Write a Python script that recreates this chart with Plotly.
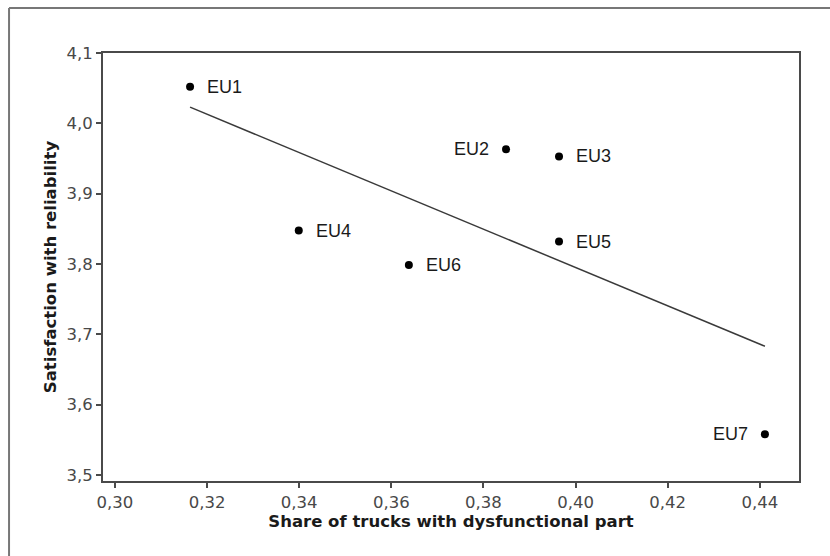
import numpy as np
import plotly.graph_objects as go

# Data
regions = ["EU1", "EU2", "EU3", "EU4", "EU5", "EU6", "EU7"]
share_dysfunctional = [0.3163, 0.3849, 0.3964, 0.3399, 0.3964, 0.3638, 0.4411]
satisfaction = [4.052, 3.963, 3.953, 3.8475, 3.832, 3.7987, 3.558]
x_ticks = [0.30, 0.32, 0.34, 0.36, 0.38, 0.40, 0.42, 0.44]
y_ticks = [3.5, 3.6, 3.7, 3.8, 3.9, 4.0, 4.1]

left_labels = {"EU2", "EU7"}

# Least-squares trend line
slope, intercept = np.polyfit(share_dysfunctional, satisfaction, 1)
fit_x = [min(share_dysfunctional), max(share_dysfunctional)]
fit_y = [slope * v + intercept for v in fit_x]

fig = go.Figure()
fig.add_trace(go.Scatter(x=fit_x, y=fit_y, mode="lines",
                         line=dict(color="#3a3a3a", width=1.5),
                         hoverinfo="skip", showlegend=False))
fig.add_trace(go.Scatter(x=share_dysfunctional, y=satisfaction, mode="markers",
                         marker=dict(color="black", size=8),
                         text=regions, showlegend=False))

for name, xv, yv in zip(regions, share_dysfunctional, satisfaction):
    left = name in left_labels
    fig.add_annotation(x=xv, y=yv, text=name, showarrow=False,
                       xanchor="right" if left else "left", yanchor="middle",
                       xshift=-15 if left else 15,
                       font=dict(family="Liberation Sans, Arial", size=18, color="#1a1a1a"))

axis_common = dict(showgrid=False, zeroline=False, showline=True, mirror=True,
                   linecolor="#4a4a4a", linewidth=2, ticks="outside", ticklen=5,
                   tickwidth=1.5, tickcolor="#4a4a4a",
                   tickfont=dict(family="DejaVu Sans, Verdana", size=16.5, color="#484848"))

fig.update_xaxes(range=[0.2974, 0.4485], tickvals=x_ticks, tickformat=".2f",
                 title=dict(text="<b>Share of trucks with dysfunctional part</b>",
                            font=dict(family="DejaVu Sans, Verdana", size=16.5, color="#1a1a1a"),
                            standoff=4),
                 **axis_common)
fig.update_yaxes(range=[3.4915, 4.1], tickvals=y_ticks, tickformat=".1f",
                 title=dict(text="<b>Satisfaction with reliability</b>",
                            font=dict(family="DejaVu Sans, Verdana", size=16.5, color="#1a1a1a"),
                            standoff=6),
                 **axis_common)

# Outer frame (left and top edges visible in the cropped figure)
fig.add_shape(type="line", xref="paper", yref="paper", x0=-0.135, x1=1.1, y0=1.105, y1=1.105,
              line=dict(color="#777777", width=2))
fig.add_shape(type="line", xref="paper", yref="paper", x0=-0.135, x1=-0.135, y0=-0.2, y1=1.105,
              line=dict(color="#777777", width=2))

fig.update_layout(width=830, height=556, margin=dict(l=103, r=31, t=53, b=75),
                  plot_bgcolor="white", paper_bgcolor="white", separators=", ",
                  showlegend=False)

fig.write_html("out.html")
